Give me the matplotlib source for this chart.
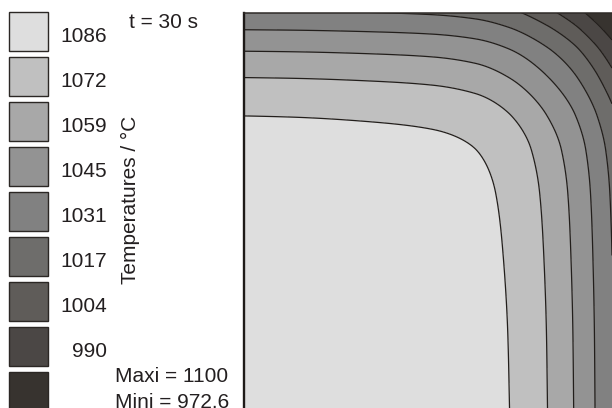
import numpy as np
import matplotlib
matplotlib.use("Agg")
import matplotlib.pyplot as plt
from matplotlib.patches import Rectangle
from matplotlib.ticker import MultipleLocator

plt.rcParams['font.family'] = ['Liberation Sans', 'DejaVu Sans']

# isotherm levels (legend labels) and band colours, coldest -> hottest
levels = [990, 1004, 1017, 1031, 1045, 1059, 1072, 1086]
band_colors = ['#37332f', '#4b4745', '#5f5c59', '#6e6d6b', '#818181',
               '#939393', '#a8a8a8', '#c0c0c0', '#dedede']
t_max = 1100
t_min = 972.6
time_s = 30

# temperature along the mid-lines vs depth below a cooled face (mm)
depth = [0, 4.6, 10.4, 17.5, 27.8, 37.1, 48.8, 65.6, 86.7, 108.4]
temp_profile = [1032.5, 1045, 1059, 1072, 1086, 1093, 1096.5, 1098.3, 1099.5, 1100]
t_ref = 500      # effective surroundings for the product solution
half_w, half_h = 100, 107


def pchip(xk, yk, x):
    xk = np.asarray(xk, float)
    yk = np.asarray(yk, float)
    h = np.diff(xk)
    d = np.diff(yk) / h
    m = np.zeros_like(yk)
    m[0], m[-1] = d[0], d[-1]
    for k in range(1, len(xk) - 1):
        if d[k - 1] * d[k] > 0:
            w1 = 2 * h[k] + h[k - 1]
            w2 = h[k] + 2 * h[k - 1]
            m[k] = (w1 + w2) / (w1 / d[k - 1] + w2 / d[k])
    i = np.clip(np.searchsorted(xk, x) - 1, 0, len(xk) - 2)
    t = (x - xk[i]) / h[i]
    h00 = 2 * t**3 - 3 * t**2 + 1
    h10 = t**3 - 2 * t**2 + t
    h01 = -2 * t**3 + 3 * t**2
    h11 = t**3 - t**2
    return h00 * yk[i] + h10 * h[i] * m[i] + h01 * yk[i + 1] + h11 * h[i] * m[i + 1]


x = np.linspace(0, half_w, 700)
y = np.linspace(0, half_h, 700)
X, Y = np.meshgrid(x, y)
theta_x = (pchip(depth, temp_profile, half_w - X) - t_ref) / (t_max - t_ref)
theta_y = (pchip(depth, temp_profile, half_h - Y) - t_ref) / (t_max - t_ref)
T = t_ref + (t_max - t_ref) * theta_x * theta_y

fig = plt.figure(figsize=(6.12, 4.08), dpi=100)
ax = fig.add_axes([243.8 / 612, 0, 1 - 243.8 / 612, (408 - 12.5) / 408])
ax.contourf(X, Y, T, levels=[t_min - 10] + levels + [t_max + 5], colors=band_colors)
ax.contour(X, Y, T, levels=levels, colors='#221e1b', linewidths=0.9)
ax.set_xlim(0, half_w)
ax.set_ylim(0, half_h)
ax.spines['right'].set_visible(False)
ax.spines['bottom'].set_visible(False)
ax.spines['left'].set_linewidth(1.7)
ax.spines['top'].set_linewidth(1.1)
ax.spines['left'].set_color('#1e1a18')
ax.spines['top'].set_color('#2e2a27')
ax.set_xticks([])
ax.yaxis.set_major_locator(MultipleLocator(6.1))
ax.tick_params(axis='y', direction='out', length=1.2, width=1.6, colors='white',
               labelleft=False)

# legend and annotations in pixel coordinates
lax = fig.add_axes([0, 0, 1, 1])
lax.set_xlim(0, 612)
lax.set_ylim(408, 0)
lax.axis('off')
txt = '#231f20'
labels = [str(v) for v in levels[::-1]] + ['']
for i, (c, lab) in enumerate(zip(band_colors[::-1], labels)):
    top = 12.3 + 45 * i
    lax.add_patch(Rectangle((9.3, top), 38.3, 38.4, fc=c, ec='#2b2724', lw=1))
    lax.text(107, top + 30, lab, ha='right', va='baseline', fontsize=15, color=txt)

lax.text(129, 28, 't = %d s' % time_s, ha='left', va='baseline', fontsize=15, color=txt)
lax.text(135.5, 200, 'Temperatures / °C', rotation=90, rotation_mode='anchor',
         ha='center', va='baseline', fontsize=15, color=txt)
lax.text(115, 381.7, 'Maxi = %g' % t_max, ha='left', va='baseline', fontsize=15, color=txt)
lax.text(115, 408.5, 'Mini = %g' % t_min, ha='left', va='baseline', fontsize=15, color=txt)

fig.savefig('out.png', dpi=100)
